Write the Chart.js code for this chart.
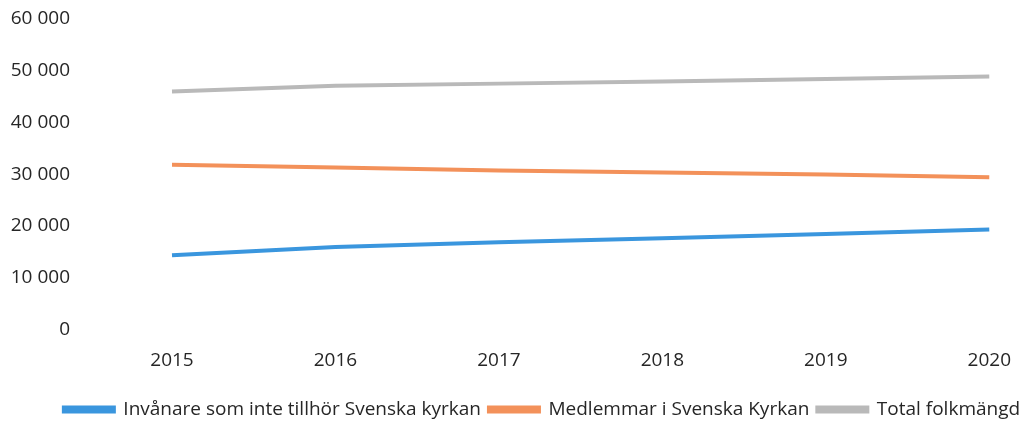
<!DOCTYPE html>
<html>
<head>
<meta charset="utf-8">
<script src="https://cdn.jsdelivr.net/npm/chart.js@4"></script>
<style>
  html, body { margin: 0; padding: 0; background: #fff; }
  #wrap { width: 1031px; height: 421px; }
</style>
</head>
<body>
<div id="wrap"><canvas id="chart"></canvas></div>
<script>
const years = ['2015', '2016', '2017', '2018', '2019', '2020'];
const ejMedlemmar = [14300, 15900, 16800, 17600, 18400, 19300];
const medlemmar = [31800, 31300, 30700, 30300, 29900, 29400];
const totalt = [46000, 47100, 47500, 47900, 48400, 48900];

let ctx = document.getElementById('chart').getContext('2d');

// flytta legenden lite åt höger, som i originalet
const legendShift = {
    id: 'legendShift',
    afterLayout: function (chart) {
        chart.legend.left += 47;
        chart.legend.right += 47;
    }
};

let kyrkan = new Chart(ctx, {
    type: 'line',
    data: {
        labels: years,
        datasets: [{
                label: 'Invånare som inte tillhör Svenska kyrkan',
                data: ejMedlemmar,
                borderWidth: 4,
                borderColor: 'rgb(58,150,222)',
                backgroundColor: 'rgb(58,150,222)',
            },
            {
                label: 'Medlemmar i Svenska Kyrkan',
                data: medlemmar,
                borderWidth: 4,
                borderColor: 'rgb(243,145,90)',
                backgroundColor: 'rgb(243,145,90)',
            },
            {
                label: 'Total folkmängd',
                data: totalt,
                borderWidth: 4,
                borderColor: 'rgb(185,185,185)',
                backgroundColor: 'rgb(130,130,130)',
            }
        ]
    },
    options: {
        responsive: true,
        maintainAspectRatio: false,
        animation: false,
        elements: {
            point: { radius: 0 },
            line: { tension: 0 }
        },
        layout: {
            padding: { left: 0, right: 41, top: 19, bottom: -8 }
        },
        scales: {
            x: {
                offset: false,
                grid: { display: false, drawTicks: false },
                border: { display: false },
                ticks: {
                    padding: 20,
                    color: '#262626',
                    font: { family: 'Open Sans', size: 19 }
                }
            },
            y: {
                min: 0,
                max: 60000,
                grid: { display: false, drawTicks: false },
                border: { display: false },
                afterFit: function (scale) {
                    scale.width = 172;
                    scale.paddingTop = 0;
                    scale.paddingBottom = 0;
                },
                ticks: {
                    stepSize: 10000,
                    padding: 102,
                    color: '#262626',
                    font: { family: 'Open Sans', size: 19 },
                    callback: function (v) {
                        return v === 0 ? '0' : String(v / 1000) + ' 000';
                    }
                }
            }
        },
        plugins: {
            legend: {
                position: 'bottom',
                align: 'center',
                labels: {
                    boxWidth: 50,
                    boxHeight: 4,
                    padding: 8,
                    color: '#262626',
                    font: { family: 'Open Sans', size: 19 }
                }
            },
            tooltip: { enabled: false }
        }
    },
    plugins: [legendShift]
});
</script>
</body>
</html>
